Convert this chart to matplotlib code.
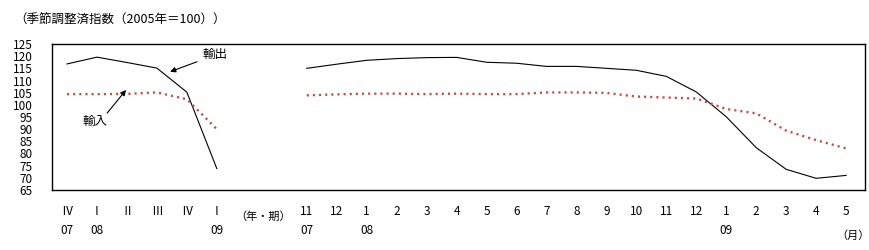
import numpy as np
import matplotlib.pyplot as plt

plt.rcParams['font.family'] = ['Noto Sans CJK JP', 'DejaVu Sans']

# quarterly part (07 IV .. 09 I)
q_top = ['Ⅳ', 'Ⅰ', 'Ⅱ', 'Ⅲ', 'Ⅳ', 'Ⅰ']
q_bot = ['07', '08', '', '', '', '09']
q_exports = [116.8, 119.6, 117.4, 115.1, 105.2, 73.8]
q_imports = [104.4, 104.4, 104.5, 105.1, 102.3, 90.0]

# monthly part (07/11 .. 09/05)
m_top = ['11', '12', '1', '2', '3', '4', '5', '6', '7', '8', '9', '10', '11', '12',
         '1', '2', '3', '4', '5']
m_bot = ['07', '', '08', '', '', '', '', '', '', '', '', '', '', '', '09', '', '', '', '']
m_exports = [115.0, 116.7, 118.3, 119.0, 119.4, 119.5, 117.5, 117.1, 115.8, 115.8,
             115.0, 114.2, 111.7, 105.3, 95.1, 82.4, 73.5, 69.8, 71.0]
m_imports = [103.9, 104.3, 104.6, 104.6, 104.4, 104.6, 104.4, 104.4, 105.1, 105.1,
             104.9, 103.4, 103.0, 102.6, 98.3, 96.5, 89.4, 85.5, 82.1]

qx = np.arange(len(q_top))
mx = np.arange(len(m_top)) + len(q_top) + 2

red = '#c0504d'

fig = plt.figure(figsize=(8.7, 2.5), dpi=100)
ax = fig.add_axes([52/870, 1-190/250, (865-52)/870, (190-44)/250])

for xs, ex, im in [(qx, q_exports, q_imports), (mx, m_exports, m_imports)]:
    ax.plot(xs, ex, color='black', lw=0.8)
    ax.plot(xs, im, color=red, lw=1.7, linestyle=(0, (0.9, 1.7)))

ax.set_xlim(-0.5, 26.63)
ax.set_ylim(65, 125)
ax.set_yticks(np.arange(65, 126, 5))
ax.tick_params(axis='y', length=0, pad=14, labelsize=8.5)

labels = [t + '\n' + b if b else t for t, b in zip(q_top + m_top, q_bot + m_bot)]
ax.set_xticks(np.concatenate([qx, mx]), labels=labels)
ax.tick_params(axis='x', length=0, pad=11, labelsize=8.5)
for lab in ax.get_xticklabels():
    lab.set_verticalalignment('top')
    lab.set_linespacing(1.6)

for s in ax.spines.values():
    s.set_linewidth(1.0)

# annotations
ax.text(4.94, 120.5, '輸出', fontsize=9, ha='center', va='center')
ax.annotate('', xy=(3.44, 113.6), xytext=(4.34, 117.7),
            arrowprops=dict(arrowstyle='-|>', color='black', lw=0.8,
                            mutation_scale=8, shrinkA=0, shrinkB=0))
ax.text(0.93, 93, '輸入', fontsize=9, ha='center', va='center')
ax.annotate('', xy=(1.97, 106.1), xytext=(1.34, 96.6),
            arrowprops=dict(arrowstyle='-|>', color='black', lw=0.8,
                            mutation_scale=8, shrinkA=0, shrinkB=0))

fig.text(14/870, 1-20/250, '（季節調整済指数（2005年＝100））', fontsize=9, va='center')
fig.text(263/870, 1-217/250, '（年・期）', fontsize=8, ha='center', va='center')
fig.text(853/870, 1-236/250, '（月）', fontsize=8, ha='center', va='center')

fig.savefig('out.png', dpi=100)
